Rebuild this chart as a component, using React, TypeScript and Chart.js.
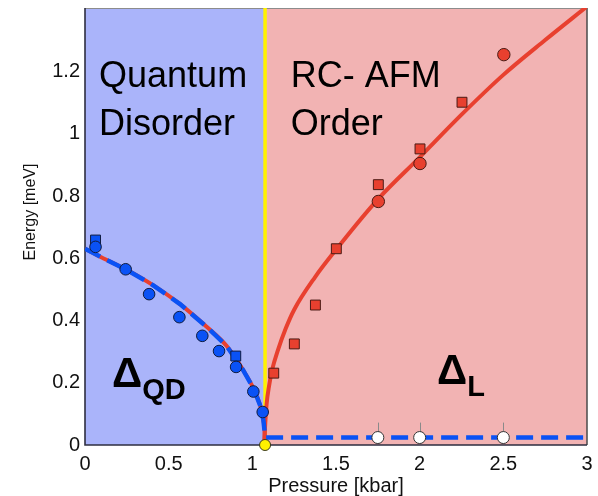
import { useEffect, useRef } from 'react';
import { Chart, registerables } from 'chart.js';

Chart.register(...registerables);

const FONT = '"Liberation Sans", Arial, Helvetica, sans-serif';

// Axis ranges and ticks (pressure in kbar, energy in meV)
const xRange = [0, 3];
const yRange = [0, 1.405];
const xTicks = [0, 0.5, 1, 1.5, 2, 2.5, 3];
const yTicks = [0, 0.2, 0.4, 0.6, 0.8, 1, 1.2];

// Quantum critical pressure separating the two phases
const criticalPressure = 1.076;

// Δ_QD in the quantum-disordered phase
const qdCirclePressure = [0.063, 0.243, 0.383, 0.564, 0.701, 0.801, 0.903, 1.006, 1.062];
const qdCircleEnergy = [0.637, 0.565, 0.485, 0.411, 0.351, 0.302, 0.251, 0.172, 0.106];
const qdSquarePressure = [0.063, 0.901];
const qdSquareEnergy = [0.659, 0.286];

// Δ_L in the RC-AFM ordered phase
const lCirclePressure = [1.753, 2.002, 2.503];
const lCircleEnergy = [0.783, 0.905, 1.255];
const lSquarePressure = [1.128, 1.251, 1.377, 1.502, 1.753, 2.002, 2.253];
const lSquareEnergy = [0.231, 0.325, 0.45, 0.631, 0.837, 0.952, 1.102];

// Gapless mode in the ordered phase, with upper error
const gaplessPressure = [1.75, 2.0, 2.5];
const gaplessEnergy = [0.024, 0.024, 0.024];
const gaplessError = [0.048, 0.048, 0.048];

// Theory curve on the disordered side
const qdFitPressure = [0, 0.1, 0.243, 0.406, 0.568, 0.727, 0.847, 0.946, 1.006, 1.045, 1.066, 1.074];
const qdFitEnergy = [0.631, 0.603, 0.565, 0.514, 0.453, 0.38, 0.318, 0.24, 0.183, 0.13, 0.08, 0.04];

// Gapless branch continuing across the ordered side
const gaplessLinePressure = [1.076, 3];
const gaplessLineEnergy = [0.024, 0.024];

// Theory curve on the ordered side
const lFitPressure = [1.07, 1.075, 1.085, 1.1, 1.12, 1.15, 1.2, 1.25, 1.375, 1.5, 1.75, 2.0, 2.25, 2.5, 2.75, 3.0];
const lFitEnergy = [0, 0.05, 0.13, 0.19, 0.245, 0.3, 0.375, 0.435, 0.54, 0.628, 0.79, 0.925, 1.062, 1.19, 1.302, 1.41];

// Phase names and gap symbols, anchored in data coordinates (baseline-left)
const phaseLines = [
  { text: 'Quantum', x: 0.084, y: 1.152 },
  { text: 'Disorder', x: 0.084, y: 0.997 },
  { text: 'RC- AFM', x: 1.229, y: 1.152 },
  { text: 'Order', x: 1.229, y: 0.997 },
];
const gapSymbols = [
  { main: 'Δ', sub: 'QD', x: 0.161, y: 0.186 },
  { main: 'Δ', sub: 'L', x: 2.104, y: 0.197 },
];

const BLUE_BG = '#aab4fa';
const RED_BG = '#f2b3b3';
const RED = '#e8402f';
const BLUE = '#0a52f5';
const YELLOW = '#fff200';

const pts = (xs: number[], ys: number[]) => xs.map((x, i) => ({ x, y: ys[i] }));

const phasePlugin = {
  id: 'phases',
  beforeDatasetsDraw(chart: any) {
    const { ctx, chartArea: a, scales } = chart;
    const xs = scales.x;
    const ys = scales.y;
    const xc = xs.getPixelForValue(criticalPressure);
    ctx.save();
    ctx.fillStyle = BLUE_BG;
    ctx.fillRect(a.left, a.top, xc - a.left, a.bottom - a.top);
    ctx.fillStyle = RED_BG;
    ctx.fillRect(xc, a.top, a.right - xc, a.bottom - a.top);

    // frame
    ctx.lineWidth = 1;
    ctx.strokeStyle = '#8c8c8c';
    ctx.beginPath();
    ctx.moveTo(a.left, a.top + 0.5);
    ctx.lineTo(a.right, a.top + 0.5);
    ctx.stroke();
    ctx.strokeStyle = '#4a4a4a';
    ctx.lineWidth = 1.5;
    ctx.beginPath();
    ctx.moveTo(a.right, a.top);
    ctx.lineTo(a.right, a.bottom);
    ctx.stroke();
    ctx.strokeStyle = '#2e2e40';
    ctx.lineWidth = 1.6;
    ctx.beginPath();
    ctx.moveTo(a.left, a.top);
    ctx.lineTo(a.left, a.bottom);
    ctx.lineTo(a.right, a.bottom);
    ctx.stroke();

    // phase names
    ctx.fillStyle = '#000';
    ctx.textAlign = 'left';
    ctx.textBaseline = 'alphabetic';
    ctx.font = `36px ${FONT}`;
    phaseLines.forEach((l) => {
      ctx.fillText(l.text, xs.getPixelForValue(l.x), ys.getPixelForValue(l.y));
    });

    // gap symbols with subscripts
    gapSymbols.forEach((g) => {
      const px = xs.getPixelForValue(g.x);
      const py = ys.getPixelForValue(g.y);
      ctx.font = `bold 42px ${FONT}`;
      ctx.fillText(g.main, px, py);
      const w = ctx.measureText(g.main).width;
      ctx.font = `bold 29px ${FONT}`;
      ctx.fillText(g.sub, px + w, py + 12);
    });

    // error bars of the gapless mode
    ctx.strokeStyle = '#8a8a8a';
    ctx.lineWidth = 1;
    gaplessPressure.forEach((p, i) => {
      const x = Math.round(xs.getPixelForValue(p)) + 0.5;
      ctx.beginPath();
      ctx.moveTo(x, ys.getPixelForValue(gaplessEnergy[i]));
      ctx.lineTo(x, ys.getPixelForValue(gaplessEnergy[i] + gaplessError[i]));
      ctx.stroke();
    });

    // axis titles
    ctx.fillStyle = '#111';
    ctx.textAlign = 'center';
    ctx.textBaseline = 'middle';
    ctx.font = `20px ${FONT}`;
    ctx.fillText('Pressure [kbar]', (a.left + a.right) / 2, 486);
    ctx.save();
    ctx.translate(31, 212);
    ctx.rotate(-Math.PI / 2);
    ctx.font = `16px ${FONT}`;
    ctx.fillText('Energy [meV]', 0, 0);
    ctx.restore();
    ctx.restore();
  },
};

const noScalePadding = (s: any) => {
  s.paddingLeft = 0;
  s.paddingRight = 0;
  s.paddingTop = 0;
  s.paddingBottom = 0;
};

export default function App() {
  const ref = useRef<HTMLCanvasElement>(null);

  useEffect(() => {
    const line = (data: any[], color: string, width: number, order: number, extra: any = {}) => ({
      type: 'scatter',
      data,
      showLine: true,
      borderColor: color,
      borderWidth: width,
      pointRadius: 0,
      cubicInterpolationMode: 'monotone',
      order,
      ...extra,
    });
    const marks = (data: any[], style: string, radius: number, fill: string, stroke: string, order: number, extra: any = {}) => ({
      type: 'scatter',
      data,
      pointStyle: style,
      pointRadius: radius,
      backgroundColor: fill,
      borderColor: stroke,
      borderWidth: 1,
      order,
      ...extra,
    });

    const chart = new Chart(ref.current!, {
      type: 'scatter',
      data: {
        datasets: [
          marks([{ x: criticalPressure, y: 0 }], 'circle', 5.5, YELLOW, '#3a3a20', 0, { clip: false }),
          marks(pts(gaplessPressure, gaplessEnergy), 'circle', 6, '#ffffff', '#333333', 1),
          marks(pts(qdCirclePressure, qdCircleEnergy), 'circle', 5.8, BLUE, '#101c40', 2),
          marks(pts(lCirclePressure, lCircleEnergy), 'circle', 6.2, RED, '#4a1a14', 2),
          marks(pts(qdSquarePressure, qdSquareEnergy), 'rect', 7, BLUE, '#101c40', 3),
          marks(pts(lSquarePressure, lSquareEnergy), 'rect', 7, RED, '#4a1a14', 3),
          line(
            pts(qdFitPressure.concat(gaplessLinePressure), qdFitEnergy.concat(gaplessLineEnergy)),
            BLUE, 4.5, 4, { borderDash: [17, 8], cubicInterpolationMode: 'default', tension: 0 }
          ),
          line(pts(qdFitPressure.concat([criticalPressure]), qdFitEnergy.concat([0])), RED, 4, 5),
          line(pts(lFitPressure, lFitEnergy), RED, 4, 5),
          line(pts([criticalPressure, criticalPressure], [yRange[0], yRange[1]]), YELLOW, 3.5, 6, { cubicInterpolationMode: 'default' }),
        ] as any,
      },
      options: {
        responsive: false,
        animation: false,
        events: [],
        layout: { padding: { top: 6, right: 11, left: 0, bottom: 0 } },
        plugins: { legend: { display: false }, tooltip: { enabled: false } },
        scales: {
          x: {
            type: 'linear',
            min: xRange[0],
            max: xRange[1],
            grid: { display: false, drawTicks: false },
            border: { display: false },
            afterFit: (s: any) => { s.height = 51; noScalePadding(s); },
            afterBuildTicks: (s: any) => { s.ticks = xTicks.map((v) => ({ value: v })); },
            ticks: {
              padding: 7, color: '#111', font: { family: FONT, size: 20 }, maxRotation: 0,
              callback: (v: any) => String(v),
            },
          },
          y: {
            type: 'linear',
            min: yRange[0],
            max: yRange[1],
            grid: { display: false, drawTicks: false },
            border: { display: false },
            afterFit: (s: any) => { s.width = 85; noScalePadding(s); },
            afterBuildTicks: (s: any) => { s.ticks = yTicks.map((v) => ({ value: v })); },
            ticks: {
              padding: 5, color: '#111', font: { family: FONT, size: 20 },
              callback: (v: any) => String(v),
            },
          },
        },
      },
      plugins: [phasePlugin],
    } as any);
    return () => chart.destroy();
  }, []);

  return (
    <div style={{ position: 'absolute', left: 0, top: 0, width: 598, height: 496 }}>
      <canvas ref={ref} width={598} height={496} style={{ display: 'block' }} />
    </div>
  );
}
